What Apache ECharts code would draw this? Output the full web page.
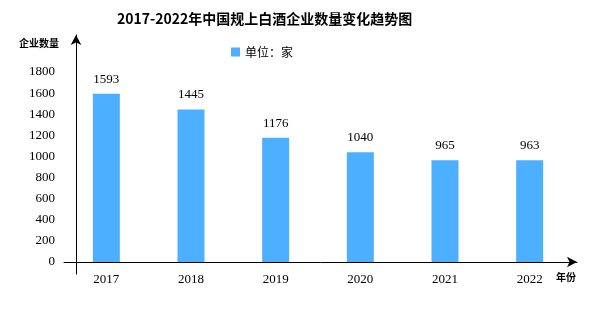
<!DOCTYPE html>
<html><head><meta charset="utf-8">
<script src="https://cdn.jsdelivr.net/npm/echarts@6/dist/echarts.min.js"></script>
<style>html,body{margin:0;padding:0;background:#fff}#c{width:605px;height:327px}</style>
</head><body><div id="c"></div>
<script>
const categories = ['2017', '2018', '2019', '2020', '2021', '2022'];
const values = [1593, 1445, 1176, 1040, 965, 963];
const seriesName = '单位：家';
const titleText = '2017-2022年中国规上白酒企业数量变化趋势图';
const yName = '企业数量';
const xName = '年份';

const numFont = 'Liberation Serif';
const cjkFont = 'Noto Sans CJK SC';
const chart = echarts.init(document.getElementById('c'), null, {renderer: 'canvas'});
chart.setOption({
  animation: false,
  backgroundColor: '#fff',
  title: [
    {text: titleText, left: 117, top: 12, padding: 0,
     textStyle: {fontSize: 14, fontWeight: 'bold', color: '#000', fontFamily: cjkFont}},
    {text: yName, left: 19, top: 38, padding: 0,
     textStyle: {fontSize: 10, fontWeight: 'bold', color: '#000', fontFamily: cjkFont}},
    {text: xName, left: 556, top: 272, padding: 0,
     textStyle: {fontSize: 10, fontWeight: 'bold', color: '#000', fontFamily: cjkFont}}
  ],
  legend: {
    data: [seriesName], left: 231, top: 46, padding: 0,
    icon: 'rect', itemWidth: 9, itemHeight: 9, itemGap: 4,
    textStyle: {fontSize: 12, color: '#000', fontFamily: cjkFont}
  },
  grid: [
    {left: 64, right: 33, top: 72, bottom: 65},
    {left: 64, right: 28, top: 35, bottom: 53}
  ],
  xAxis: [
    {type: 'category', gridIndex: 0, data: categories,
     axisLine: {show: false}, axisTick: {show: false},
     axisLabel: {margin: 11, fontSize: 13, color: '#000', fontFamily: numFont}},
    {type: 'value', gridIndex: 1, min: -12, max: 501,
     axisLine: {show: true, onZero: true, symbol: ['none', 'arrow'], symbolSize: [8, 10],
                lineStyle: {color: '#000', width: 1}},
     axisTick: {show: false}, axisLabel: {show: false}, splitLine: {show: false}}
  ],
  yAxis: [
    {type: 'value', gridIndex: 0, min: 0, max: 1800, interval: 200,
     axisLine: {show: false}, axisTick: {show: false}, splitLine: {show: false},
     axisLabel: {margin: 9, fontSize: 13, color: '#000', fontFamily: numFont,
                 formatter: v => String(v)}},
    {type: 'value', gridIndex: 1, min: -12, max: 227,
     axisLine: {show: true, onZero: true, symbol: ['none', 'arrow'], symbolSize: [8, 10],
                lineStyle: {color: '#000', width: 1}},
     axisTick: {show: false}, axisLabel: {show: false}, splitLine: {show: false}}
  ],
  series: [{
    name: seriesName, type: 'bar', xAxisIndex: 0, yAxisIndex: 0,
    data: values, barWidth: 27,
    itemStyle: {color: '#4DAFFF'},
    label: {show: true, position: 'top', distance: 8, fontSize: 13, color: '#000', fontFamily: numFont}
  }]
});
</script></body></html>
